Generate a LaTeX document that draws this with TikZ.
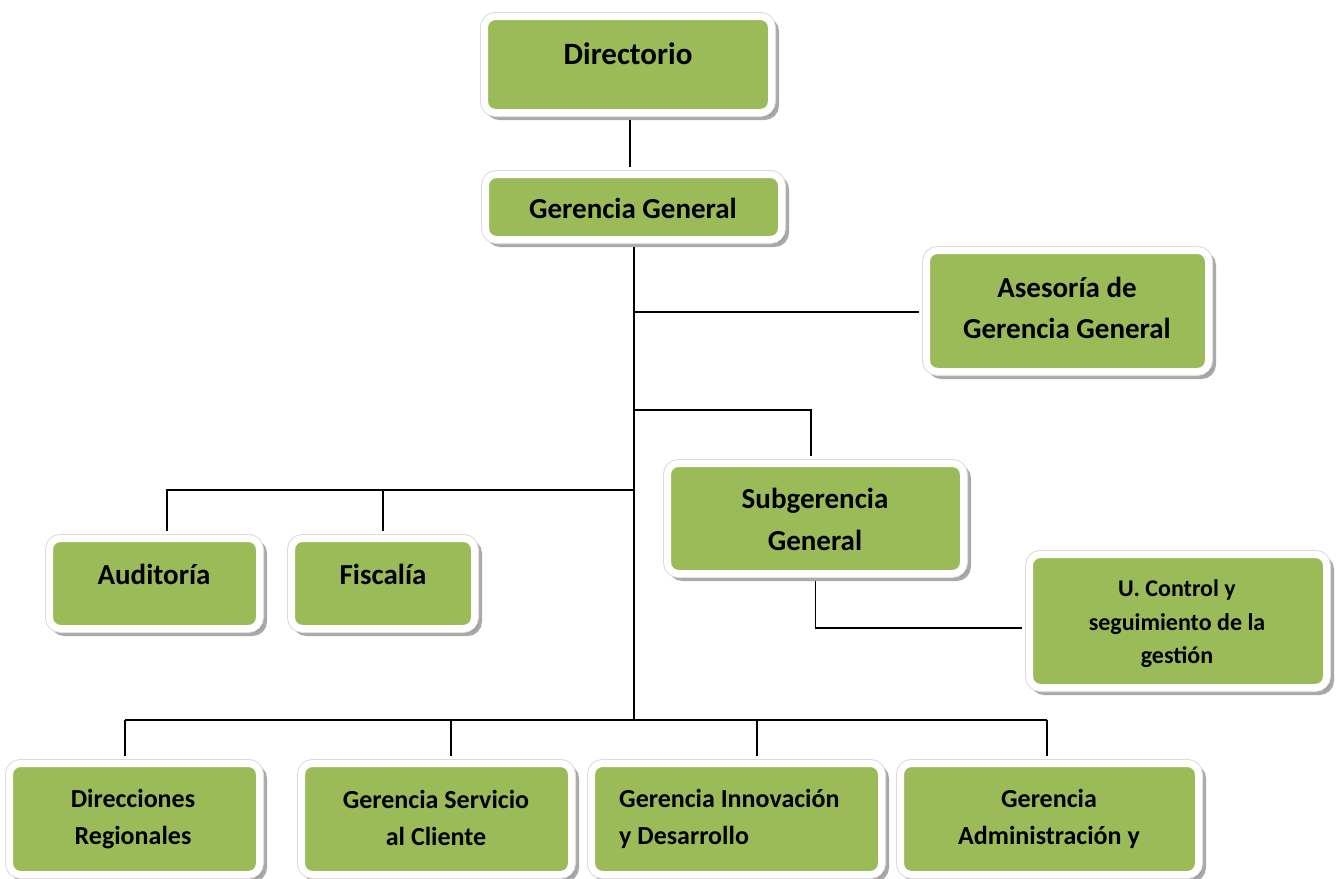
\documentclass[tikz,border=0pt]{standalone}
\usepackage{fontspec}
\setmainfont{Carlito}
\usetikzlibrary{shadows}
\definecolor{boxgreen}{HTML}{9BBB59}
\begin{document}
\begin{tikzpicture}[x=1pt,y=-1pt,
  box/.style={draw=white, line width=7pt, fill=boxgreen, rounded corners=11pt,
    inner sep=0pt,
    drop shadow={shadow xshift=4pt, shadow yshift=-4pt, fill=black!45,
      draw=black!45, line width=7pt, opacity=.75},
    preaction={draw=black!14, line width=9pt}},
  lbl/.style={font=\bfseries\fontsize{#1}{#1}\selectfont, inner sep=0pt, align=center, text=black},
  link/.style={draw=black, line width=1.8pt}]
\useasboundingbox (0,0) rectangle (1338,878);
\clip (0,0) rectangle (1338,878);

% top of the chart
\node[box, minimum width=287pt, minimum height=96pt]  (dir) at (628,64.5) {};
\node[lbl=31] (tdir) at (628,54) {Directorio};
\node[box, minimum width=296pt, minimum height=65pt]  (gg)  at (633.5,207) {};
\node[lbl=29] (tgg) at (633,208) {Gerencia General};

% staff units
\node[box, minimum width=282pt, minimum height=121pt] (ase) at (1067.5,311) {};
\node[lbl=29, font=\bfseries\fontsize{29}{41}\selectfont] (tase) at (1067,308) {Asesoría de\\Gerencia General};
\node[box, minimum width=296pt, minimum height=110pt] (sub) at (815.5,518.5) {};
\node[lbl=29, font=\bfseries\fontsize{29}{42}\selectfont] (tsub) at (815,519) {Subgerencia\\General};
\node[box, minimum width=297pt, minimum height=133pt] (uc)  at (1178,621) {};
\node[lbl=24, font=\bfseries\fontsize{24}{33.5}\selectfont] (tuc) at (1177,624) {U. Control y\\seguimiento de la\\gestión};
\node[box, minimum width=210pt, minimum height=90pt]  (aud) at (154.5,583.5) {};
\node[lbl=29] (taud) at (154,574) {Auditoría};
\node[box, minimum width=183pt, minimum height=90pt]  (fis) at (383,583.5) {};
\node[lbl=29] (tfis) at (383,574) {Fiscalía};

% line departments
\node[box, minimum width=250pt, minimum height=111pt] (dr) at (134.5,819) {};
\node[lbl=26, font=\bfseries\fontsize{26}{37}\selectfont] (tdr) at (133,819) {Direcciones\\Regionales};
\node[box, minimum width=270pt, minimum height=111pt] (gs) at (436.5,819) {};
\node[lbl=26, font=\bfseries\fontsize{26}{37}\selectfont] (tgs) at (436,818) {Gerencia Servicio\\al Cliente};
\node[box, minimum width=290pt, minimum height=111pt] (gi) at (736.5,819) {};
\node[lbl=26, font=\bfseries\fontsize{26}{37}\selectfont, align=left, anchor=west] (tgi) at (619,819) {Gerencia Innovación\\y Desarrollo};
\node[box, minimum width=298pt, minimum height=111pt] (ga) at (1049.5,819) {};
\node[lbl=26, font=\bfseries\fontsize{26}{37}\selectfont] (tga) at (1049,819) {Gerencia\\Administración y};

% trunk and branch points
\coordinate (tA) at (634,312);
\coordinate (tB) at (634,410);
\coordinate (tC) at (634,490);
\coordinate (tD) at (634,720);
% drop positions above each box
\coordinate (xAud) at (167,0);
\coordinate (xFis) at (383,0);
\coordinate (xSub) at (811,0);
\coordinate (xDr)  at (125,0);
\coordinate (xGs)  at (451,0);
\coordinate (xGi)  at (757,0);
\coordinate (xGa)  at (1047,0);
\coordinate (xTop) at (630,0);

\draw[link] ([yshift=-4pt]dir.south -| xTop) -- ([yshift=4pt]gg.north -| xTop);
\draw[link] ([yshift=-4pt]gg.south -| tD) -- (tD);
\draw[link] (tA) -- ([xshift=-4pt]ase.west |- tA);
\draw[link] (tB) -| ([yshift=4pt]sub.north -| xSub);
\draw[link] (tC) -| ([yshift=4pt]aud.north -| xAud);
\draw[link] (xFis |- tC) -- ([yshift=4pt]fis.north -| xFis);
\draw[link] ([yshift=-4pt]sub.south) |- ([xshift=-4pt]uc.west |- 0,628);
\draw[link] (xDr |- tD) -- (xGa |- tD);
\draw[link] (xDr |- tD) -- ([yshift=4pt]dr.north -| xDr);
\draw[link] (xGs |- tD) -- ([yshift=4pt]gs.north -| xGs);
\draw[link] (xGi |- tD) -- ([yshift=4pt]gi.north -| xGi);
\draw[link] (xGa |- tD) -- ([yshift=4pt]ga.north -| xGa);
\end{tikzpicture}
\end{document}
